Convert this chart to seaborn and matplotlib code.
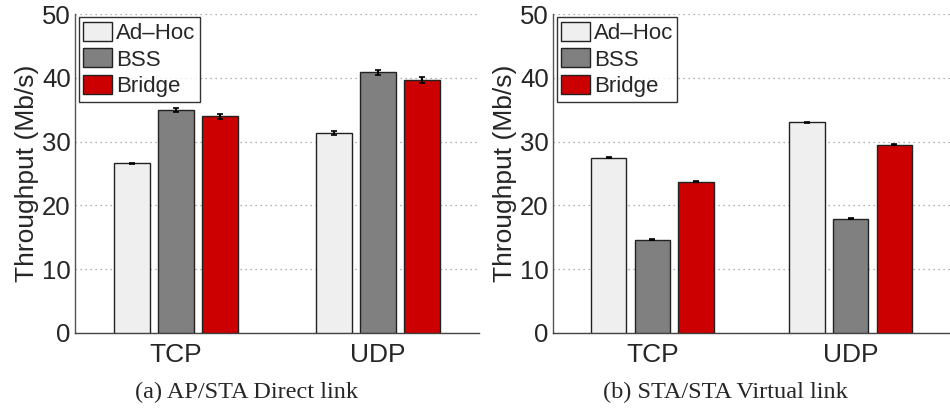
import matplotlib
matplotlib.use("Agg")
import matplotlib.pyplot as plt
import seaborn as sns
import pandas as pd
import numpy as np

# Protocols and network modes
protocols = ["TCP", "UDP"]
modes = ["Ad\u2013Hoc", "BSS", "Bridge"]
mode_colors = ["#efefef", "#808080", "#cc0000"]

# (a) AP/STA direct link: mean throughput and error per mode, per protocol
direct_mean = {"Ad\u2013Hoc": [26.6, 31.35], "BSS": [34.9, 40.9], "Bridge": [34.0, 39.65]}
direct_err = {"Ad\u2013Hoc": [0.1, 0.35], "BSS": [0.3, 0.4], "Bridge": [0.4, 0.4]}

# (b) STA/STA virtual link
virtual_mean = {"Ad\u2013Hoc": [27.5, 33.0], "BSS": [14.6, 17.9], "Bridge": [23.7, 29.5]}
virtual_err = {"Ad\u2013Hoc": [0.1, 0.1], "BSS": [0.1, 0.1], "Bridge": [0.1, 0.1]}

y_ticks = [0, 10, 20, 30, 40, 50]
captions = ["(a) AP/STA Direct link", "(b) STA/STA Virtual link"]

sns.set_style("white")
plt.rcParams["font.family"] = ["Liberation Sans", "DejaVu Sans"]

fig = plt.figure(figsize=(9.5, 4.12), dpi=100)
ax_a = fig.add_axes([75 / 950, 1 - 333 / 412, 404 / 950, 319 / 412])
ax_b = fig.add_axes([553 / 950, 1 - 333 / 412, 397 / 950, 319 / 412])


def draw_panel(ax, means, errs, caption, cx):
    rows = []
    for m in modes:
        for p, v in zip(protocols, means[m]):
            rows.append({"protocol": p, "mode": m, "throughput": v})
    df = pd.DataFrame(rows)
    sns.barplot(data=df, x="protocol", y="throughput", hue="mode",
                order=protocols, hue_order=modes, palette=mode_colors,
                width=0.66, gap=0.19, errorbar=None, edgecolor="#222222",
                linewidth=1.0, saturation=1, ax=ax, zorder=3)
    # error bars placed on the bar centres
    for cont, m in zip(ax.containers, modes):
        xs = [b.get_x() + b.get_width() / 2 for b in cont]
        ax.errorbar(xs, means[m], yerr=errs[m], fmt="none", ecolor="black",
                    elinewidth=1.5, capsize=2, capthick=1.2, zorder=4)
    ax.set_xlim(-0.5, 1.5)
    ax.set_ylim(0, 50)
    ax.set_yticks(y_ticks)
    ax.set_xlabel("")
    ax.set_ylabel("Throughput (Mb/s)", fontsize=19, labelpad=2)
    ax.tick_params(axis="y", direction="in", length=3, width=0.8,
                   labelsize=18.5, pad=3, color="#444444")
    ax.tick_params(axis="x", length=0, labelsize=19, pad=7)
    ax.yaxis.grid(True, linestyle=(0, (1, 3)), color="#999999", linewidth=0.9)
    ax.set_axisbelow(True)
    for s in ["top", "right"]:
        ax.spines[s].set_visible(False)
    ax.spines["left"].set_color("#555555")
    ax.spines["bottom"].set_color("#444444")
    ax.spines["left"].set_linewidth(1.0)
    ax.spines["bottom"].set_linewidth(1.0)
    ax.set_facecolor("none")
    leg = ax.legend(loc="upper left", bbox_to_anchor=(0.01, 0.99),
                    fontsize=16, frameon=True, fancybox=False,
                    handlelength=1.3, handleheight=0.95, handletextpad=0.15,
                    labelspacing=0.2, borderpad=0.2, borderaxespad=0.0)
    leg.get_frame().set_edgecolor("black")
    leg.get_frame().set_linewidth(1.0)
    for h in leg.legend_handles:
        h.set_edgecolor("#222222")
        h.set_linewidth(1.0)
    fig.text(cx / 950, 1 - 392 / 412, caption, ha="center", va="center",
             fontsize=17.5, family=["Liberation Serif", "DejaVu Serif"])


draw_panel(ax_a, direct_mean, direct_err, captions[0], 246)
draw_panel(ax_b, virtual_mean, virtual_err, captions[1], 725)

fig.savefig("out.png", dpi=100)
